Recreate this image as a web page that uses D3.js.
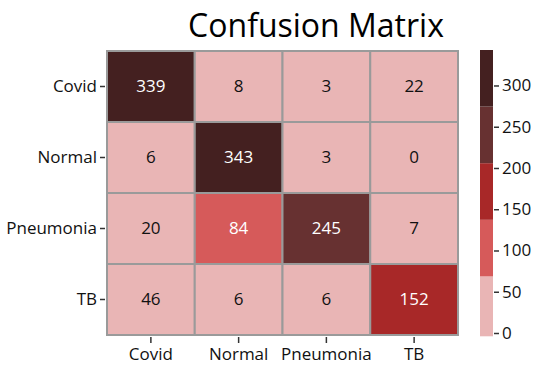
<!DOCTYPE html>
<html><head><meta charset="utf-8">
<script src="https://cdn.jsdelivr.net/npm/d3@7"></script>
<style>body{margin:0;background:#fff}svg{display:block}text{font-family:"Open Sans",sans-serif}</style>
</head><body><svg id="c" width="548" height="375"></svg>
<script>
const rowLabels = ["Covid","Normal","Pneumonia","TB"];
const colLabels = ["Covid","Normal","Pneumonia","TB"];
const values = [
  [339, 8, 3, 22],
  [6, 343, 3, 0],
  [20, 84, 245, 7],
  [46, 6, 6, 152]
];
const colorTicks = [0,50,100,150,200,250,300];
const palette = ["#e9b5b5","#d65a5a","#a82828","#673131","#442020"];
const vmax = 343;

const svg = d3.select("#c");
const x = d3.scaleBand().domain(colLabels).range([107,458]);
const y = d3.scaleBand().domain(rowLabels).range([51,335]);
const color = d3.scaleQuantize().domain([0,vmax]).range(palette);

svg.append("text").attr("x",316).attr("y",37).attr("text-anchor","middle")
  .attr("font-size",32).attr("fill","#000").text("Confusion Matrix");

const cells = [];
values.forEach((r,i)=>r.forEach((v,j)=>cells.push({r:rowLabels[i],c:colLabels[j],v})));

svg.append("g").selectAll("rect").data(cells).join("rect")
  .attr("x",d=>x(d.c)).attr("y",d=>y(d.r))
  .attr("width",x.bandwidth()).attr("height",y.bandwidth())
  .attr("fill",d=>color(d.v)).attr("stroke","#9a9a9a").attr("stroke-width",2);

svg.append("g").selectAll("text").data(cells).join("text")
  .attr("x",d=>x(d.c)+x.bandwidth()/2).attr("y",d=>y(d.r)+y.bandwidth()/2)
  .attr("dy","0.35em").attr("text-anchor","middle").attr("font-size",17)
  .attr("fill",d=>color(d.v)!==palette[0]?"#fff":"#111").text(d=>d.v);

const ax = svg.append("g").attr("transform","translate(0,337)")
  .call(d3.axisBottom(x).tickSize(6).tickPadding(5));
ax.select(".domain").remove();
ax.selectAll("text").attr("font-size",17).attr("fill","#111").style("font-family","'Open Sans',sans-serif");
ax.selectAll("line").attr("stroke","#333").attr("stroke-width",1.5);

const ay = svg.append("g").attr("transform","translate(105,0)")
  .call(d3.axisLeft(y).tickSize(5).tickPadding(3));
ay.select(".domain").remove();
ay.selectAll("text").attr("font-size",17).attr("fill","#111").style("font-family","'Open Sans',sans-serif");
ay.selectAll("line").attr("stroke","#333").attr("stroke-width",1.5);

// colorbar
const cy = d3.scaleLinear().domain([0,vmax]).range([333,50]);
const bins = palette.map((p,i)=>({p, lo:i*vmax/palette.length, hi:(i+1)*vmax/palette.length}));
bins[0].lo = -4;
svg.append("g").selectAll("rect").data(bins).join("rect")
  .attr("x",480).attr("width",13)
  .attr("y",d=>cy(d.hi)).attr("height",d=>cy(d.lo)-cy(d.hi))
  .attr("fill",d=>d.p);
const cax = svg.append("g").attr("transform","translate(494,0)")
  .call(d3.axisRight(cy).tickValues(colorTicks).tickSize(5).tickPadding(3));
cax.select(".domain").remove();
cax.selectAll("text").attr("font-size",17).attr("fill","#111").style("font-family","'Open Sans',sans-serif");
cax.selectAll("line").attr("stroke","#333").attr("stroke-width",1.5);
</script></body></html>
